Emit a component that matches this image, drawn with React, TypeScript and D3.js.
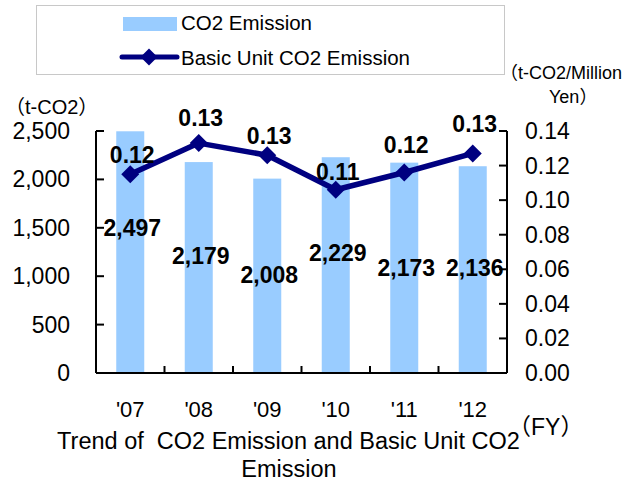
import React from "react";
import * as d3 from "d3";

const categories = ["'07", "'08", "'09", "'10", "'11", "'12"];
const co2Emission = [2497, 2179, 2008, 2229, 2173, 2136];
const basicUnit = [0.115, 0.133, 0.126, 0.106, 0.116, 0.127];
const basicUnitLabels = ["0.12", "0.13", "0.13", "0.11", "0.12", "0.13"];
const leftTicks = [0, 500, 1000, 1500, 2000, 2500];
const rightTicks = [0, 0.02, 0.04, 0.06, 0.08, 0.1, 0.12, 0.14];

// layout: label vertical positions (px) as placed in the original
const barLabelY = [228, 256, 275, 253, 268, 268];
const lineLabelDy = [-19, -25, -19, -18, -27, -29];

const W = 628, H = 482;
const M = { left: 96, right: 507, top: 131, bottom: 373 };
const FONT = "'Liberation Sans', Arial, 'Noto Sans CJK JP', sans-serif";

export default function App() {
  const x = d3.scaleBand<string>().domain(categories).range([M.left, M.right]).paddingInner(0).paddingOuter(0);
  const yL = d3.scaleLinear().domain([0, 2500]).range([M.bottom, M.top]);
  const yR = d3.scaleLinear().domain([0, 0.14]).range([M.bottom, M.top]);
  const bw = 28;
  const cx = (c: string) => (x(c) as number) + x.bandwidth() / 2;
  const line = d3.line<number>().x((_, i) => cx(categories[i])).y((d) => yR(d));
  const diamond = (px: number, py: number, r: number) => `M${px},${py - r}L${px + r},${py}L${px},${py + r}L${px - r},${py}Z`;

  return (
    <svg width={W} height={H} style={{ position: "absolute", left: 0, top: 0, background: "#fff" }} fontFamily={FONT}>
      {/* Legend */}
      <rect x={36.5} y={5.5} width={468} height={69} fill="#fff" stroke="#c8c8c8" strokeWidth={1} />
      <rect x={123} y={17} width={54} height={14} fill="#99CCFF" />
      <text x={181} y={30} fontSize={20.5} fill="#000">CO2 Emission</text>
      <line x1={122} x2={177} y1={57} y2={57} stroke="#000080" strokeWidth={5} strokeLinecap="round" />
      <path d={diamond(149, 57, 8.5)} fill="#000080" />
      <text x={181} y={65} fontSize={20.5} fill="#000">Basic Unit CO2 Emission</text>

      {/* Axis titles */}
      <text x={5} y={114} fontSize={20}>（t-CO2）</text>
      <text x={500} y={79} fontSize={18}>（t-CO2/Million</text>
      <text x={549} y={103} fontSize={18}>Yen）</text>

      {/* Bars */}
      {co2Emission.map((v, i) => (
        <rect key={i} x={cx(categories[i]) - bw / 2} y={yL(v)} width={bw} height={M.bottom - yL(v)} fill="#99CCFF" />
      ))}

      {/* Axes */}
      <g stroke="#000" strokeWidth={2}>
        <line x1={M.left} x2={M.left} y1={M.top} y2={M.bottom} />
        <line x1={M.right} x2={M.right} y1={M.top} y2={M.bottom} />
        <line x1={M.left} x2={M.right} y1={M.bottom} y2={M.bottom} />
        {leftTicks.map((t) => (
          <line key={"l" + t} x1={M.left} x2={M.left + 8} y1={yL(t)} y2={yL(t)} />
        ))}
        {rightTicks.map((t) => (
          <line key={"r" + t} x1={M.right - 8} x2={M.right} y1={yR(t)} y2={yR(t)} />
        ))}
        {categories.map((c, i) => (
          <line key={"c" + i} x1={(x(c) as number)} x2={(x(c) as number)} y1={M.bottom} y2={M.bottom - 7} />
        ))}
        <line x1={M.right} x2={M.right} y1={M.bottom} y2={M.bottom - 7} />
      </g>
      {leftTicks.map((t) => (
        <text key={"lt" + t} x={70} y={yL(t) + 8} fontSize={23} textAnchor="end">{d3.format(",")(t)}</text>
      ))}
      {rightTicks.map((t) => (
        <text key={"rt" + t} x={525} y={yR(t) + 8} fontSize={23}>{d3.format(".2f")(t)}</text>
      ))}
      {categories.map((c) => (
        <text key={"ct" + c} x={cx(c)} y={417} fontSize={22} textAnchor="middle">{c}</text>
      ))}
      <text x={508} y={435} fontSize={23}>（FY）</text>

      {/* Line */}
      <path d={line(basicUnit) || ""} fill="none" stroke="#000080" strokeWidth={5.5} strokeLinejoin="round" />
      {basicUnit.map((v, i) => (
        <path key={"m" + i} d={diamond(cx(categories[i]), yR(v), 9)} fill="#000080" />
      ))}

      {/* Data labels */}
      {co2Emission.map((v, i) => (
        <text key={"bl" + i} x={cx(categories[i]) + 2} y={barLabelY[i] + 8} fontSize={23} fontWeight="bold" textAnchor="middle">{d3.format(",")(v)}</text>
      ))}
      {basicUnit.map((v, i) => (
        <text key={"ll" + i} x={cx(categories[i]) + 2} y={yR(v) + lineLabelDy[i] + 8} fontSize={23} fontWeight="bold" textAnchor="middle">{basicUnitLabels[i]}</text>
      ))}

      {/* Title */}
      <text x={288.5} y={449} fontSize={23.5} textAnchor="middle" style={{ whiteSpace: "pre" }}>{"Trend of  CO2 Emission and Basic Unit CO2"}</text>
      <text x={289} y={477} fontSize={23.5} textAnchor="middle">Emission</text>
    </svg>
  );
}
